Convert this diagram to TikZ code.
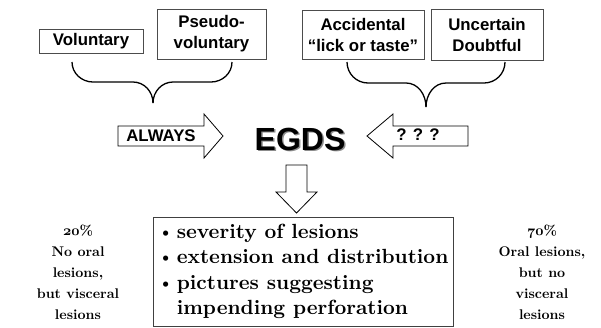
\documentclass[tikz,border=0pt]{standalone}
\usepackage{fontspec}
\newfontfamily\arial{Liberation Sans}
\newfontfamily\lmb{lmroman10-bold.otf}
\newcommand\osn[1]{{\fontencoding{OML}\fontfamily{cmm}\fontseries{b}\fontshape{it}\selectfont #1}}
\newcommand\bul{{\fontsize{17}{17}\selectfont\raisebox{1pt}{\textbullet}}}
\begin{document}
\begin{tikzpicture}[x=1pt,y=-1pt,
  box/.style={draw=black!70, line width=0.9pt, fill=white, inner sep=0pt, align=center,
    font=\arial\bfseries\fontsize{16.8}{21}\selectfont},
  bigarrow/.style={draw=black, line width=0.8pt, fill=white, line join=miter},
  brace/.style={draw=black, line width=1.3pt},
  side/.style={align=center, inner sep=0pt, font=\lmb\fontsize{14}{21}\selectfont},
  lbl/.style={inner sep=0pt, font=\arial\bfseries\fontsize{16.8}{20}\selectfont}]
\useasboundingbox (0,0) rectangle (601,327);
% top boxes
\node[box, minimum width=104pt, minimum height=24pt] (vol) at (91,41) {Voluntary};
\node[box, minimum width=109pt, minimum height=50pt] (pse) at (211.5,34) {Pseudo-\\voluntary};
\node[box, minimum width=122pt, minimum height=49pt] (acc) at (363,34.5) {Accidental\\“lick or taste”};
\node[box, minimum width=112pt, minimum height=51pt] (unc) at (487,34.5) {Uncertain\\Doubtful};
% braces
\coordinate (bl1) at (72,62); \coordinate (br1) at (232,62); \coordinate (bt1) at (153,103);
\draw[brace] (bl1) to[out=-90,in=180] (93,82) -- (133,82) to[out=0,in=90] (bt1);
\draw[brace] (br1) to[out=-90,in=0] (211,82) -- (173,82) to[out=180,in=90] (bt1);
\coordinate (bl2) at (347,62); \coordinate (br2) at (505,62); \coordinate (bt2) at (426,107);
\draw[brace] (bl2) to[out=-90,in=180] (368,83) -- (406,83) to[out=0,in=90] (bt2);
\draw[brace] (br2) to[out=-90,in=0] (484,83) -- (446,83) to[out=180,in=90] (bt2);
% block arrows
\draw[bigarrow] (118,126) -- (204,126) -- (204,114) -- (223,136) -- (204,158) -- (204,146) -- (118,146) -- cycle;
\node[lbl] (always) at (161,136) {ALWAYS};
\draw[bigarrow] (468,126) -- (393,126) -- (393,114) -- (367,136) -- (393,158) -- (393,146) -- (468,146) -- cycle;
\node[lbl] (qqq) at (418,135) {? ? ?};
% EGDS
\node[inner sep=0pt, text=black!45, font=\arial\bfseries\fontsize{32}{32}\selectfont] at (301.5,140.5) {EGDS};
\node[inner sep=0pt, font=\arial\bfseries\fontsize{32}{32}\selectfont] (egds) at (300,139) {EGDS};
% down arrow
\draw[bigarrow] (286,165) -- (307,165) -- (307,192) -- (317,192) -- (296.5,213) -- (276,192) -- (286,192) -- cycle;
% main box
\node[draw=black!75, line width=0.9pt, minimum width=300pt, minimum height=109pt, inner sep=0pt] (main) at (303,271.5) {};
\node[anchor=west, align=left, inner sep=0pt, font=\lmb\fontsize{20.5}{25.5}\selectfont] (list) at (158,271.5)
  {\bul\,severity of lesions\\
   \bul\,extension and distribution\\
   \bul\,pictures suggesting\\
   \phantom{\bul}\,impending perforation};
% side texts
\node[side] (left) at (78,272.5) {\osn{20}\%\\No oral\\lesions,\\but visceral\\lesions};
\node[side] (right) at (542,272.5) {\osn{70}\%\\Oral lesions,\\but no\\visceral\\lesions};
\end{tikzpicture}
\end{document}
